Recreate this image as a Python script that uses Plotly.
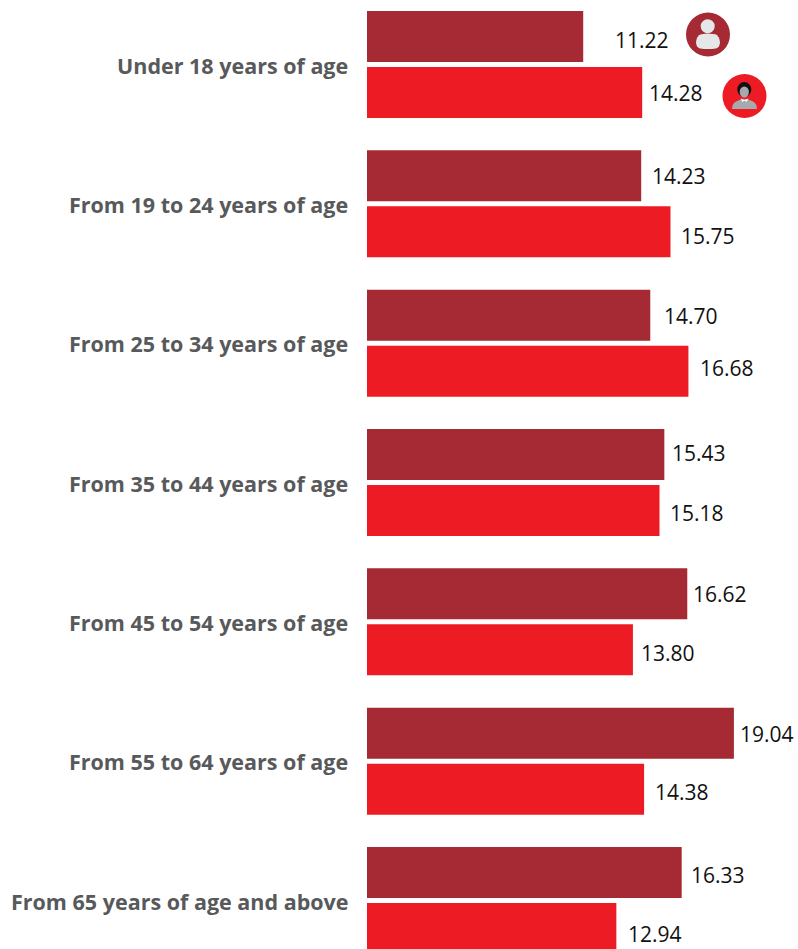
import plotly.graph_objects as go

categories = ["Under 18 years of age", "From 19 to 24 years of age", "From 25 to 34 years of age",
              "From 35 to 44 years of age", "From 45 to 54 years of age", "From 55 to 64 years of age",
              "From 65 years of age and above"]
male_values = [11.22, 14.23, 14.70, 15.43, 16.62, 19.04, 16.33]
female_values = [14.28, 15.75, 16.68, 15.18, 13.80, 14.38, 12.94]

# label nudges in pixels (horizontal gap from bar end, vertical offset from bar centre)
male_gap = [30, 9, 12, 6, 4, 4, 7]
male_dy = [3, 0, 1, -2, 0, 1, 2]
female_gap = [5, 8, 10, 8, 6, 9, 10]
female_dy = [0, 4, -3, 2, 3, 3, 5]

DARK = "#a52a33"
RED = "#ed1c24"
W, H, L = 798, 949, 367
positions = list(range(len(categories)))

fig = go.Figure()
fig.add_bar(y=positions, x=male_values, orientation="h", marker=dict(color=DARK, line_width=0), name="Male")
fig.add_bar(y=positions, x=female_values, orientation="h", marker=dict(color=RED, line_width=0), name="Female")

annotations = []
for i in positions:
    annotations.append(dict(x=0, y=i, xref="x", yref="y", text=f"<b>{categories[i]}</b>", showarrow=False,
                            xanchor="right", yanchor="middle", xshift=-17, yshift=-0.5,
                            font=dict(family="Open Sans", size=21.5, color="#58595b")))
    for val, gap, dy, side in ((male_values[i], male_gap[i], male_dy[i], 1), (female_values[i], female_gap[i], female_dy[i], -1)):
        annotations.append(dict(x=val, y=i, xref="x", yref="y", text=f"{val:.2f}", showarrow=False,
                                xanchor="left", yanchor="middle", xshift=gap, yshift=side * 28 - dy,
                                font=dict(family="Open Sans", size=21, color="#111111")))


def px(x):
    return (x - L) / (W - L)


def py(y):
    return 1 - y / H


def circle(cx, cy, rx, ry, color):
    return dict(type="circle", xref="paper", yref="paper", x0=px(cx - rx), x1=px(cx + rx), y0=py(cy + ry), y1=py(cy - ry),
                fillcolor=color, line_width=0, layer="above")


def path(points, color):
    d = ""
    for p in points:
        if len(p) == 2:
            d += f"{'M' if not d else 'L'}{px(p[0]):.5f},{py(p[1]):.5f} "
        else:
            d += f"Q{px(p[0]):.5f},{py(p[1]):.5f} {px(p[2]):.5f},{py(p[3]):.5f} "
    return dict(type="path", xref="paper", yref="paper", path=d + "Z", fillcolor=color, line_width=0, layer="above")


shapes = [
    circle(708, 34.5, 22, 22, DARK),
    circle(707.7, 26.3, 7, 7, "#e6e7e8"),
    path([(699, 35), (702, 33.5, 707.7, 33.5), (714, 33.5, 717, 35), (720, 38, 720, 42), (720, 47, 716, 48.5),
          (708, 49.5, 700, 48.5), (696, 47, 696, 42), (696, 38, 699, 35)], "#e6e7e8"),
    circle(744.5, 96, 22, 22, RED),
    path([(732, 109), (732, 103, 737, 101), (741, 99, 744.5, 99), (748, 99, 752, 101), (757, 103, 757, 109)], "#a7a9ac"),
    circle(744.3, 89.5, 7, 7.5, "#111111"),
    circle(744.3, 92, 4.6, 5.5, "#a7a9ac"),
    path([(740.5, 98.5), (744.5, 100), (748.5, 98.5), (746.5, 102), (744.5, 100.5), (742.5, 102)], "#ffffff"),
]

fig.update_layout(
    width=W, height=H, margin=dict(l=L, r=0, t=0, b=0, autoexpand=False),
    paper_bgcolor="white", plot_bgcolor="white", showlegend=False,
    barmode="group", bargap=0.196, bargroupgap=0.089,
    annotations=annotations, shapes=shapes,
    xaxis=dict(range=[0, (W - L) / 19.27], visible=False, fixedrange=True),
    yaxis=dict(range=[6.348, -0.463], visible=False, fixedrange=True),
)
fig.write_html("out.html", config=dict(displayModeBar=False),
               post_script="document.body.style.margin='0';document.body.style.overflow='hidden';")
